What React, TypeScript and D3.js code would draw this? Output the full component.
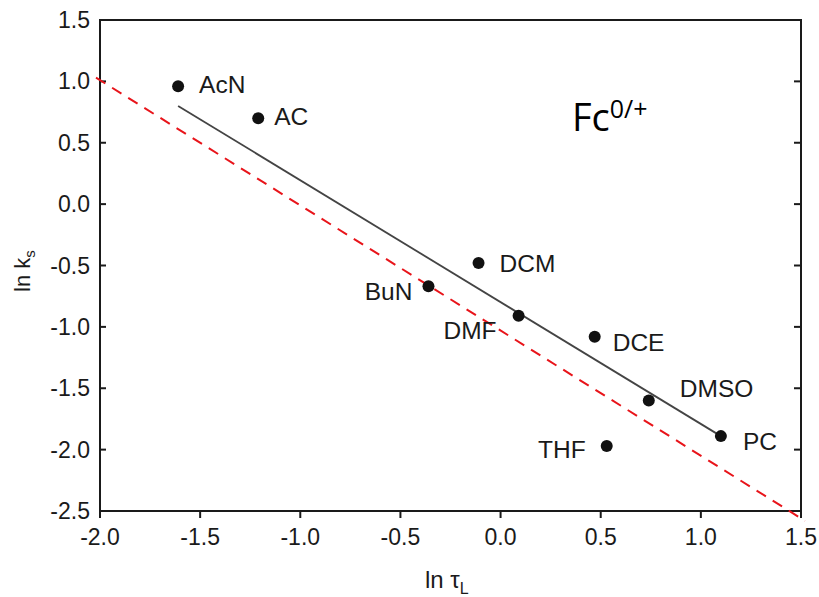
import React from "react";
import * as d3 from "d3";

// Solvents: ln(tau_L) vs ln(k_s) for the Fc0/+ couple
const solvents = ["AcN", "AC", "DCM", "BuN", "DMF", "DCE", "DMSO", "PC", "THF"];
const lnTau = [-1.61, -1.21, -0.11, -0.36, 0.09, 0.47, 0.74, 1.1, 0.53];
const lnKs = [0.96, 0.7, -0.48, -0.67, -0.91, -1.08, -1.6, -1.89, -1.97];

// Least-squares fit drawn across the data range
const fitX = [-1.61, 1.1];
const fitY = [0.8, -1.89];

// Reference line of unit-like slope
const refX = [-2.02, 1.52];
const refY = [1.03, -2.58];

const xTicks = [-2.0, -1.5, -1.0, -0.5, 0.0, 0.5, 1.0, 1.5];
const yTicks = [1.5, 1.0, 0.5, 0.0, -0.5, -1.0, -1.5, -2.0, -2.5];

// Label placement relative to each dot (px)
const labelOffset: Record<string, [number, number, string]> = {
  AcN: [21, 7, "start"],
  AC: [16, 7, "start"],
  DCM: [21, 9, "start"],
  BuN: [-16, 14, "end"],
  DMF: [-22, 23, "end"],
  DCE: [18, 14, "start"],
  DMSO: [31, -4, "start"],
  PC: [22, 14, "start"],
  THF: [-21, 12, "end"],
};

const W = 819;
const H = 597;
const left = 100;
const right = 801;
const top = 20;
const bottom = 511;

export default function App() {
  const x = d3.scaleLinear().domain([-2.0, 1.5]).range([left, right]);
  const y = d3.scaleLinear().domain([-2.5, 1.5]).range([bottom, top]);
  const line = d3
    .line<[number, number]>()
    .x((d) => x(d[0]))
    .y((d) => y(d[1]));
  const fitPts = fitX.map((v, i) => [v, fitY[i]] as [number, number]);
  const refPts = refX.map((v, i) => [v, refY[i]] as [number, number]);
  const font = "'Liberation Sans', Arial, Helvetica, sans-serif";
  const ink = "#1a1a1a";

  return (
    <svg
      width={W}
      height={H}
      style={{ position: "absolute", left: 0, top: 0, background: "#fff" }}
      fontFamily={font}
    >
      {/* frame */}
      <rect
        x={left}
        y={top}
        width={right - left}
        height={bottom - top}
        fill="none"
        stroke={ink}
        strokeWidth={2}
      />
      {/* x ticks (outside) */}
      {xTicks.map((t) => (
        <g key={"x" + t}>
          <line x1={x(t)} x2={x(t)} y1={bottom} y2={bottom + 7} stroke={ink} strokeWidth={2} />
          <text x={x(t)} y={bottom + 34} textAnchor="middle" fontSize={23} fill={ink}>
            {d3.format(".1f")(t).replace("−", "-")}
          </text>
        </g>
      ))}
      {/* y ticks (inside, both sides) */}
      {yTicks.map((t) => (
        <g key={"y" + t}>
          {t > -2.5 && t < 1.5 && (
            <>
              <line x1={left} x2={left + 6} y1={y(t)} y2={y(t)} stroke={ink} strokeWidth={2} />
              <line x1={right - 7} x2={right} y1={y(t)} y2={y(t)} stroke={ink} strokeWidth={2} />
            </>
          )}
          <text x={left - 10} y={y(t) + 8} textAnchor="end" fontSize={23} fill={ink}>
            {d3.format(".1f")(t).replace("−", "-")}
          </text>
        </g>
      ))}

      {/* reference line */}
      <path
        d={line(refPts) ?? ""}
        fill="none"
        stroke="#e8141a"
        strokeWidth={2}
        strokeDasharray="11 8"
      />
      {/* fit line */}
      <path d={line(fitPts) ?? ""} fill="none" stroke="#444" strokeWidth={1.8} />

      {/* points and labels */}
      {solvents.map((s, i) => {
        const [dx, dy, anchor] = labelOffset[s];
        return (
          <g key={s}>
            <circle cx={x(lnTau[i])} cy={y(lnKs[i])} r={6} fill="#111" />
            <text
              x={x(lnTau[i]) + dx}
              y={y(lnKs[i]) + dy}
              textAnchor={anchor}
              fontSize={24.5}
              fill={ink}
            >
              {s}
            </text>
          </g>
        );
      })}

      {/* couple annotation */}
      <text x={572} y={131} fontFamily="'Open Sans', 'Noto Sans', sans-serif" fontSize={38} fill="#000">
        Fc
        <tspan fontSize={25} dy={-13}>
          0/+
        </tspan>
      </text>

      {/* axis titles */}
      <text x={425} y={588} fontSize={24} fill={ink}>
        ln τ
        <tspan fontSize={16} dy={6}>
          L
        </tspan>
      </text>
      <text transform={`translate(30, 292) rotate(-90)`} fontSize={22} fill={ink}>
        ln k
        <tspan fontSize={15} dy={5}>
          s
        </tspan>
      </text>
    </svg>
  );
}
